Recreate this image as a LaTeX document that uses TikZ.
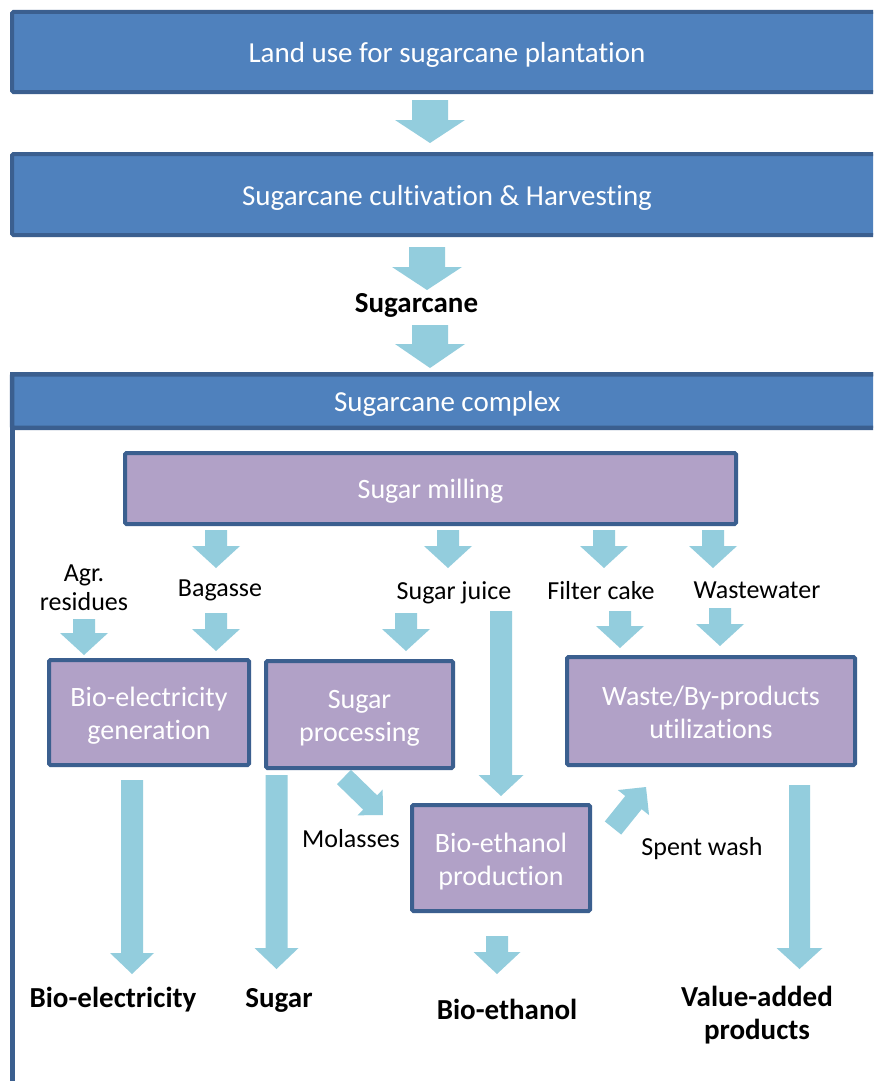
\documentclass[tikz,border=0pt]{standalone}
\usepackage{fontspec}
\setmainfont{Carlito}[Ligatures=NoCommon]
\usetikzlibrary{calc}
\definecolor{bluefill}{HTML}{4F81BD}
\definecolor{blueborder}{HTML}{3B5F8F}
\definecolor{purplefill}{HTML}{B1A1C7}
\definecolor{arrowblue}{HTML}{93CDDD}
\tikzset{
  bluebox/.style={draw=blueborder, fill=bluefill, line width=4pt, inner sep=0pt, rounded corners=1.5pt},
  bluetext/.style={text=white, font=\fontsize{29}{34}\selectfont, inner sep=0pt},
  purplebox/.style={draw=blueborder, fill=purplefill, line width=4pt, inner sep=0pt, rounded corners=1.5pt},
  purpletext/.style={text=white, font=\fontsize{28}{33}\selectfont, align=center, inner sep=0pt},
  lbl/.style={text=black, font=\fontsize{26}{29}\selectfont, align=center, inner sep=0pt},
  outlbl/.style={text=black, font=\fontsize{29}{33}\selectfont\bfseries, align=center, inner sep=0pt},
  frameline/.style={draw=blueborder, line width=4.5pt},
}
% #1 from, #2 to (tip), #3 shaft half width, #4 head half width, #5 head length
\newcommand{\blockarrow}[5]{%
  \path let \p1=($(#2)-(#1)$) in \pgfextra{%
    \pgfmathsetmacro\baang{atan2(\y1,\x1)}%
    \pgfmathsetmacro\balen{veclen(\x1,\y1)}%
    \global\let\baangg\baang\global\let\baleng\balen};
  \fill[arrowblue, shift={(#1)}, rotate=\baangg]
    (0,#3) -- ({\baleng-#5},#3) -- ({\baleng-#5},#4) -- ({\baleng},0)
    -- ({\baleng-#5},-#4) -- ({\baleng-#5},-#3) -- (0,-#3) -- cycle;
}
\begin{document}
\begin{tikzpicture}[x=1pt,y=-1pt]
\useasboundingbox (0,0) rectangle (873,1081);
\clip (0,0) rectangle (873,1081);
\fill[white] (0,0) rectangle (873,1081);

% top boxes
\node[bluebox, minimum width=870pt, minimum height=80pt] (land) at (447,52) {};
\node[bluetext] (landt) at ([yshift=-3pt]land.center) {Land use for sugarcane plantation};
\node[bluebox, minimum width=870pt, minimum height=81pt] (cult) at (447,194.5) {};
\node[bluetext] (cultt) at ([yshift=-3.5pt]cult.center) {Sugarcane cultivation \& Harvesting};
\node[outlbl] (cane) at (416.5,305) {Sugarcane};

% container
\draw[frameline] (12.25,374) rectangle (895,1110);
\node[bluebox, line width=4.5pt, minimum width=870.5pt, minimum height=53.5pt] (complex) at (447.25,401) {};
\node[bluetext] (complext) at ([yshift=-3pt]complex.center) {Sugarcane complex};

% process boxes
\node[purplebox, minimum width=611pt, minimum height=71pt] (mill) at (430.5,488.5) {};
\node[purpletext] (millt) at ([yshift=-3pt]mill.center) {Sugar milling};
\node[purplebox, minimum width=200pt, minimum height=105pt] (bioel) at (149,712.5) {};
\node[purpletext] (bioelt) at ([yshift=-3pt]bioel.center) {Bio-electricity\\generation};
\node[purplebox, minimum width=187pt, minimum height=107pt] (sugproc) at (359.5,714.5) {};
\node[purpletext] (sugproct) at ([yshift=-3.5pt]sugproc.center) {Sugar\\processing};
\node[purplebox, minimum width=288pt, minimum height=108pt] (waste) at (711,711) {};
\node[purpletext] (wastet) at ([yshift=-1.5pt]waste.center) {Waste/By-products\\utilizations};
\node[purplebox, minimum width=178pt, minimum height=106pt] (bioeth) at (501,858) {};
\node[purpletext] (bioetht) at ([yshift=-4pt]bioeth.center) {Bio-ethanol\\production};

% labels
\node[lbl] (agr) at (84,587.5) {Agr.\\residues};
\node[lbl] (bagasse) at (220,590) {Bagasse};
\node[lbl] (juice) at (454,593) {Sugar juice};
\node[lbl] (filter) at (601,590.5) {Filter cake};
\node[lbl] (ww) at (757,590.5) {Wastewater};
\node[lbl] (molasses) at (351,839) {Molasses};
\node[lbl] (spent) at (702,849) {Spent wash};

% outputs
\node[outlbl] (oel) at (113,1000) {Bio-electricity};
\node[outlbl] (osug) at (279,1000) {Sugar};
\node[outlbl] (oeth) at (507,1009) {Bio-ethanol};
\node[outlbl] (oval) at (757,1015) {Value-added\\products};

% arrow end points
\coordinate (a1s) at (430,100);   \coordinate (a1e) at (430,143);
\coordinate (a2s) at (427,247);   \coordinate (a2e) at (427,290);
\coordinate (a3s) at (430,325);   \coordinate (a3e) at (430,368);
\coordinate (m1s) at (216,530);   \coordinate (m1e) at (216,568);
\coordinate (m2s) at (448,530);   \coordinate (m2e) at (448,568);
\coordinate (m3s) at (604,530);   \coordinate (m3e) at (604,568);
\coordinate (m4s) at (713,530);   \coordinate (m4e) at (713,568);
\coordinate (r1s) at (84,619);    \coordinate (r1e) at (84,655);
\coordinate (r2s) at (216,613);   \coordinate (r2e) at (216,651);
\coordinate (r3s) at (406,613);   \coordinate (r3e) at (406,651);
\coordinate (r4s) at (620,611);   \coordinate (r4e) at (620,648);
\coordinate (r5s) at (720,608);   \coordinate (r5e) at (720,646);
\coordinate (js) at (501,611);    \coordinate (je) at (501,796);
\coordinate (es) at (132,780);    \coordinate (ee) at (132,974);
\coordinate (ss) at (276.5,775);  \coordinate (se) at (276.5,969);
\coordinate (vs) at (799.5,785);  \coordinate (ve) at (799.5,969);
\coordinate (bs) at (497,936);    \coordinate (be) at (497,974);
\coordinate (mols) at (344,777);  \coordinate (mole) at (383,815);
\coordinate (sps) at (613,828);   \coordinate (spe) at (646,787);

% arrows
\blockarrow{a1s}{a1e}{18}{35}{23}
\blockarrow{a2s}{a2e}{18}{35}{23}
\blockarrow{a3s}{a3e}{18}{35}{24}
\blockarrow{m1s}{m1e}{11}{24}{22}
\blockarrow{m2s}{m2e}{11}{24}{22}
\blockarrow{m3s}{m3e}{11}{24}{22}
\blockarrow{m4s}{m4e}{11}{24}{22}
\blockarrow{r1s}{r1e}{11}{24}{22}
\blockarrow{r2s}{r2e}{11}{24}{22}
\blockarrow{r3s}{r3e}{11}{24}{22}
\blockarrow{r4s}{r4e}{11}{24}{22}
\blockarrow{r5s}{r5e}{11}{24}{22}
\blockarrow{js}{je}{11}{22.5}{21}
\blockarrow{es}{ee}{11}{22}{21}
\blockarrow{ss}{se}{11}{22}{21}
\blockarrow{vs}{ve}{10.5}{23}{21}
\blockarrow{bs}{be}{11}{23.5}{22}
\blockarrow{mols}{mole}{10}{18}{18}
\blockarrow{sps}{spe}{10.5}{20}{20}
\end{tikzpicture}
\end{document}
